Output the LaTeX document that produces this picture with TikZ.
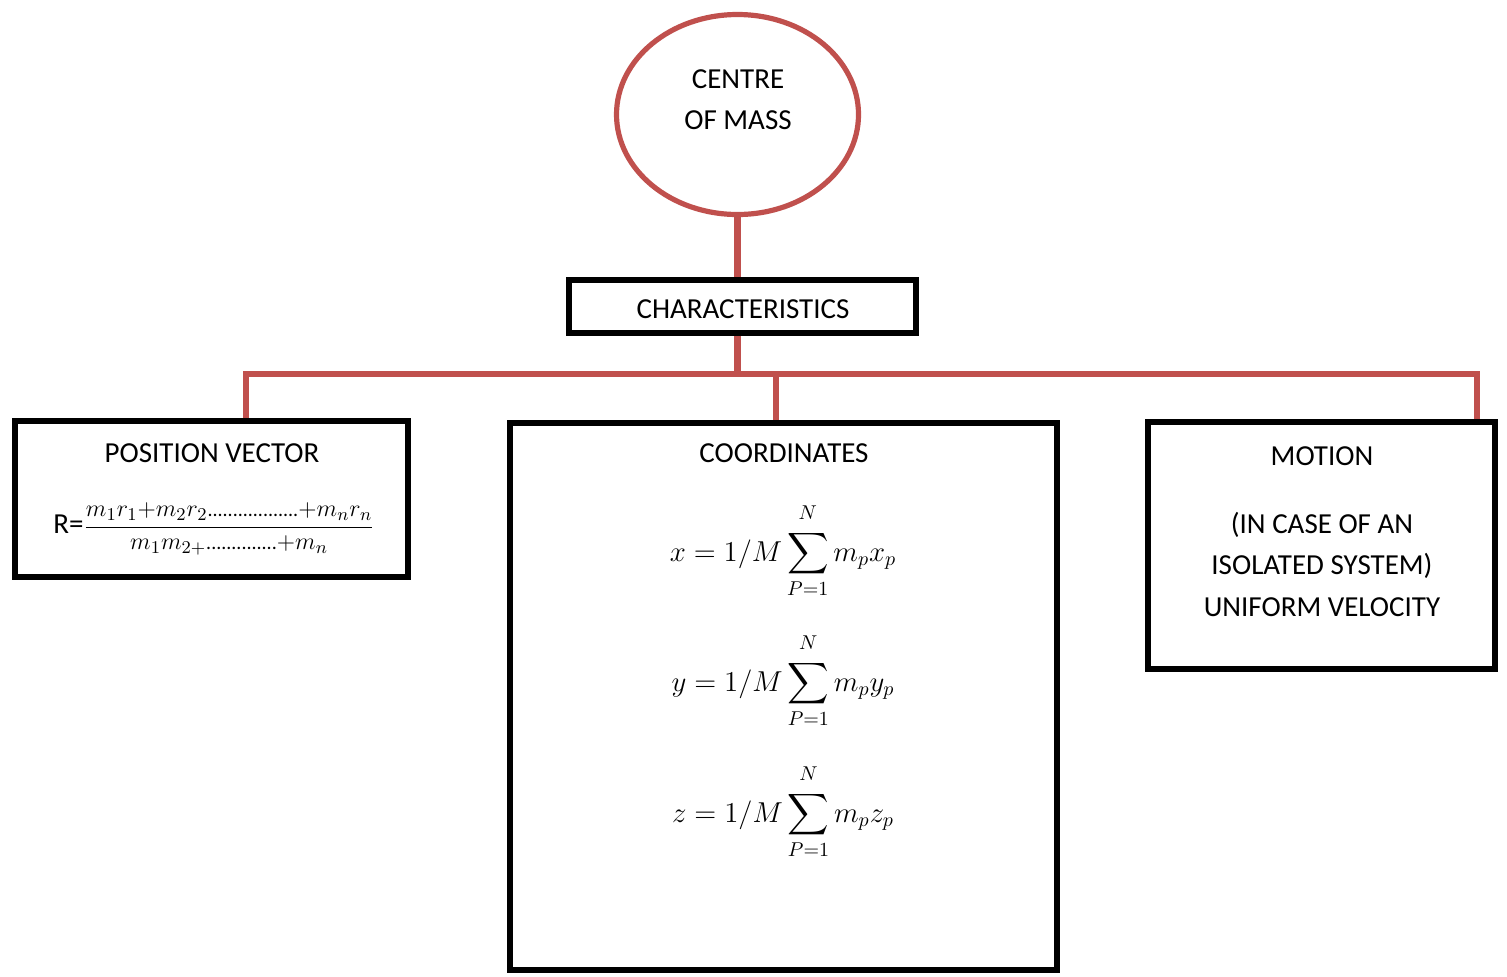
\documentclass[tikz,border=0pt]{standalone}
\usepackage{amsmath}
\usepackage{fontspec}
\setmainfont{Carlito}
\usetikzlibrary{shapes.geometric}
\usetikzlibrary{backgrounds}
\definecolor{linkred}{RGB}{192,80,77}
\tikzset{
    label_text/.style = {inner sep=0pt, anchor=base, font=\fontsize{14.5}{17}\selectfont},
    math_text/.style = {label_text, font=\fontsize{14.2}{17}\selectfont},
    black_box/.style = {rectangle, draw=black, line width=3.2pt, inner sep=0pt},
    red_ellipse/.style = {ellipse, draw=linkred, line width=2.6pt, inner sep=0pt},
    red_link/.style = {draw=linkred, line width=3.4pt}
}
\newcommand{\fracdots}[1]{\text{\fontsize{10}{12}\selectfont #1}}
\newcommand{\upperlim}{\rule[-4pt]{0pt}{1pt}N}

\begin{document}
\begin{tikzpicture}[x=0.5pt, y=-0.5pt]
    \useasboundingbox (0,0) rectangle (1507,976);

    % shapes
    \node [red_ellipse, minimum width=121pt, minimum height=100pt] (com) at (737.5,114.5) {};
    \node [black_box, minimum width=173.5pt, minimum height=26.5pt] (chars) at (742.5,306.5) {};
    \node [black_box, minimum width=196.5pt, minimum height=78pt] (posvec) at (211.5,499) {};
    \node [black_box, minimum width=273.5pt, minimum height=273.5pt] (coords) at (783.5,696.5) {};
    \node [black_box, minimum width=173.5pt, minimum height=123.5pt] (motion) at (1321.5,545.5) {};

    % links
    \coordinate (bus_top) at (737.5,374);
    \coordinate (bus_left) at (246,374);
    \coordinate (bus_mid) at (776,374);
    \coordinate (bus_right) at (1477,374);
    \begin{scope}[on background layer]
        \draw [red_link] (com.south) -- (com.south |- chars.north);
        \draw [red_link] (com.south |- chars.south) -- (bus_top);
        \draw [red_link] (bus_left |- posvec.north) -- (bus_left) -- (bus_right) -- (bus_right |- motion.north);
        \draw [red_link] (bus_mid) -- (bus_mid |- coords.north);
    \end{scope}

    % texts
    \node [label_text] (com_top) at (738,88) {CENTRE};
    \node [label_text] (com_bottom) at (738,129) {OF MASS};
    \node [label_text] (chars_text) at (743,318) {CHARACTERISTICS};

    \node [label_text] (posvec_title) at (212,462) {POSITION VECTOR};
    \node [label_text, anchor=base west] (posvec_formula) at (53,533)
        {R={\fontsize{12.5}{15}\selectfont$\dfrac{m_1r_1{+}m_2r_2\fracdots{..................}{+}m_nr_n}{m_1m_{2+}\fracdots{..............}{+}m_n}$}};

    \node [label_text] (coords_title) at (784,462) {COORDINATES};
    \node [math_text] (coords_x) at (783,561) {$\displaystyle x = 1/M\sum_{P=1}^{\upperlim} m_p x_p$};
    \node [math_text] (coords_y) at (783,691) {$\displaystyle y = 1/M\sum_{P=1}^{\upperlim} m_p y_p$};
    \node [math_text] (coords_z) at (783,822) {$\displaystyle z = 1/M\sum_{P=1}^{\upperlim} m_p z_p$};

    \node [label_text] (motion_title) at (1322,465) {MOTION};
    \node [label_text] (motion_l1) at (1322,533) {(IN CASE OF AN};
    \node [label_text] (motion_l2) at (1322,574) {ISOLATED SYSTEM)};
    \node [label_text] (motion_l3) at (1322,616) {UNIFORM VELOCITY};
\end{tikzpicture}
\end{document}
